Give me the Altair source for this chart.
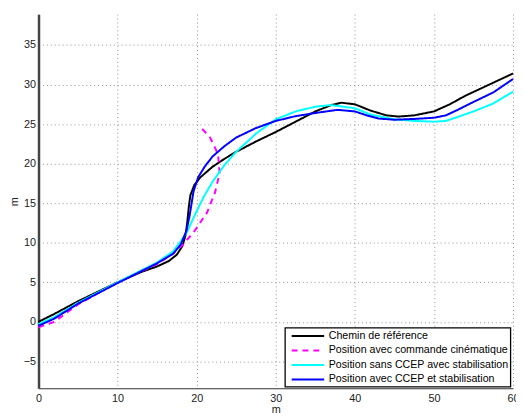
import altair as alt
import pandas as pd

series_names = [
    "Chemin de référence",
    "Position avec commande cinématique",
    "Position sans CCEP avec stabilisation",
    "Position avec CCEP et stabilisation",
]
series_colors = ["#000000", "#ff00ff", "#00ffff", "#0000ff"]

ref_x = [0, 2, 5, 10, 13, 15, 16.5, 17.5, 18.2, 18.6, 18.8, 19.0, 19.2, 19.7, 20.5, 22, 23.5, 25, 27.5, 30, 32.5, 35, 37, 38.3, 40, 42, 44, 45.5, 47.5, 50, 52, 54, 57, 60]
ref_y = [0, 1.0, 2.6, 5.0, 6.3, 7.0, 7.7, 8.5, 9.6, 11.0, 12.5, 14.5, 16.0, 17.3, 18.3, 19.6, 20.6, 21.5, 22.8, 24.0, 25.3, 26.6, 27.4, 27.7, 27.5, 26.7, 26.1, 25.95, 26.1, 26.6, 27.5, 28.6, 30.0, 31.4]

kin_x = [0, 2, 5, 10, 12, 15, 17, 18.2, 19.6, 21.3, 22.3, 22.9, 22.7, 21.7, 20.6]
kin_y = [-0.7, 0.0, 2.2, 5.0, 5.9, 7.3, 8.6, 9.7, 11.3, 13.8, 16.3, 18.8, 21.2, 23.3, 24.5]

sans_x = [0, 2, 5, 10, 15, 17, 18, 18.8, 20, 21, 22, 23.5, 25, 27.5, 30, 32.5, 35, 37, 40, 42, 45, 47.5, 50, 51.5, 53, 55, 57.5, 60]
sans_y = [-0.3, 0.6, 2.4, 5.0, 7.5, 8.9, 10.2, 11.4, 14.0, 16.0, 17.7, 19.8, 21.5, 23.8, 25.6, 26.6, 27.2, 27.4, 27.0, 26.2, 25.6, 25.4, 25.3, 25.4, 25.9, 26.6, 27.6, 29.1]

avec_x = [0, 2, 5, 10, 15, 17, 18, 18.7, 19.1, 19.6, 20.2, 21, 22, 23.5, 25, 27.5, 30, 32.5, 35, 37.8, 40, 41.5, 43, 45, 47.5, 50, 51.5, 53, 55, 57.5, 60]
avec_y = [-0.5, 0.4, 2.3, 4.9, 7.4, 8.6, 9.8, 11.5, 13.4, 16.5, 18.3, 19.6, 20.9, 22.2, 23.3, 24.5, 25.4, 26.0, 26.4, 26.8, 26.6, 26.1, 25.7, 25.55, 25.65, 25.8, 26.1, 26.8, 27.8, 29.0, 30.7]

x_ticks = [0, 10, 20, 30, 40, 50, 60]
y_ticks = [-5, 0, 5, 10, 15, 20, 25, 30, 35]

rows = []
for name, xs, ys in zip(series_names, [ref_x, kin_x, sans_x, avec_x], [ref_y, kin_y, sans_y, avec_y]):
    for i, (xv, yv) in enumerate(zip(xs, ys)):
        rows.append({"serie": name, "x": xv, "y": yv, "i": i})
df = pd.DataFrame(rows)

font = "Liberation Sans"

chart = alt.Chart(df).mark_line(strokeWidth=2).encode(
    x=alt.X("x:Q", title="m",
            scale=alt.Scale(domain=[0, 60], nice=False, zero=False),
            axis=alt.Axis(values=x_ticks, grid=True, tickSize=0, labelPadding=4,
                          titlePadding=1, labelFlush=False, domainWidth=1.2)),
    y=alt.Y("y:Q", title="m",
            scale=alt.Scale(domain=[-8.4, 38.9], nice=False, zero=False),
            axis=alt.Axis(values=y_ticks, grid=True, tickSize=0, labelPadding=3,
                          titlePadding=4, domainWidth=2.5, domainColor="#444444")),
    color=alt.Color("serie:N", sort=series_names,
                    scale=alt.Scale(domain=series_names, range=series_colors),
                    legend=alt.Legend(title=None)),
    strokeDash=alt.StrokeDash("serie:N", sort=series_names,
                              scale=alt.Scale(domain=series_names,
                                              range=[[1, 0], [6, 5], [1, 0], [1, 0]]),
                              legend=alt.Legend(title=None)),
    order=alt.Order("i:Q"),
).properties(
    width=482, height=380,
    autosize=alt.AutoSizeParams(type="none"),
    padding={"left": 31, "top": 3, "right": 3, "bottom": 28},
).configure_view(stroke=None).configure_axis(
    labelFont=font, titleFont=font, labelFontSize=11, titleFontSize=11,
    titleFontWeight="normal", labelColor="#222222", titleColor="#222222",
    domainColor="#333333",
    gridColor="#888888", gridDash=[1, 3], gridWidth=1, gridOpacity=0.9,
).configure_legend(
    orient="none", legendX=250.3, legendY=318.5,
    labelFont=font, labelFontSize=10.8, labelColor="#000000",
    symbolType="M-0.3,0H5.7", symbolSize=121, symbolStrokeWidth=2,
    strokeColor="#000000", strokeWidth=1.3, padding=2, rowPadding=2.7, labelOffset=29.5,
    fillColor="#ffffff", labelLimit=300,
)

chart.save("out.html", embed_options={"renderer": "svg", "actions": False})
